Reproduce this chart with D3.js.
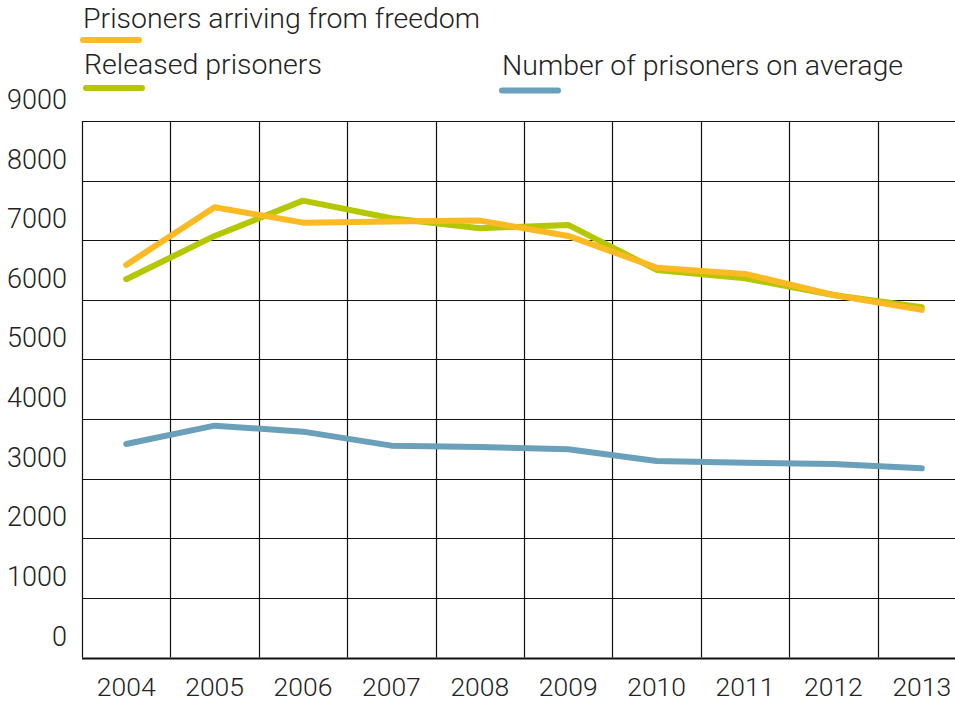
<!DOCTYPE html>
<html>
<head>
<meta charset="utf-8">
<script src="https://cdn.jsdelivr.net/npm/d3@7"></script>
<style>
  body { margin: 0; background: #fff; }
  text { font-family: Roboto, "DejaVu Sans", sans-serif; font-weight: 300; fill: #222; }
</style>
</head>
<body>
<script>
var years = [2004, 2005, 2006, 2007, 2008, 2009, 2010, 2011, 2012, 2013]
var arriving = [6586, 7554, 7295, 7312, 7329, 7072, 6540, 6435, 6082, 5831]
var released = [6346, 7072, 7664, 7369, 7201, 7257, 6502, 6362, 6082, 5876]
var average = [3582, 3889, 3789, 3554, 3532, 3493, 3297, 3268, 3247, 3174]
var yTicks = [0, 1000, 2000, 3000, 4000, 5000, 6000, 7000, 8000, 9000]

var width = 955, height = 701
var plotLeft = 82, plotRight = 966, plotTop = 121, plotBottom = 657.5

var svg = d3.select("body").append("svg")
  .attr("width", width)
  .attr("height", height)

var x = d3.scaleBand().domain(years).range([plotLeft, plotRight])
var y = d3.scaleLinear().domain([0, 9000]).range([plotBottom, plotTop])
var cx = function(d) { return x(d) + x.bandwidth() / 2 }

// grid
var grid = svg.append("g")
grid.selectAll(".h").data(yTicks).enter().append("line")
  .attr("x1", plotLeft).attr("x2", width)
  .attr("y1", function(d) { return Math.round(y(d)) + 0.5 })
  .attr("y2", function(d) { return Math.round(y(d)) + 0.5 })
  .attr("stroke", "#111")
  .attr("stroke-width", function(d) { return d === 0 ? 2 : 1.2 })
grid.selectAll(".v").data(years).enter().append("line")
  .attr("x1", function(d) { return Math.round(x(d)) + 0.5 })
  .attr("x2", function(d) { return Math.round(x(d)) + 0.5 })
  .attr("y1", y(9000)).attr("y2", y(0))
  .attr("stroke", "#111")
  .attr("stroke-width", 1.2)

// y labels sit above their gridline
svg.selectAll(".ylab").data(yTicks).enter().append("text")
  .attr("x", 67)
  .attr("y", function(d) { return y(d) - 12 })
  .attr("text-anchor", "end")
  .attr("font-size", 27)
  .text(function(d) { return d })

// x labels
svg.selectAll(".xlab").data(years).enter().append("text")
  .attr("x", cx)
  .attr("y", 696)
  .attr("text-anchor", "middle")
  .attr("font-size", 26.5)
  .text(function(d) { return d })

var series = [
  { name: "Number of prisoners on average", values: average, color: "#6aa0ba" },
  { name: "Released prisoners", values: released, color: "#b5c700" },
  { name: "Prisoners arriving from freedom", values: arriving, color: "#fbba22" }
]

var line = d3.line()
  .x(function(d, i) { return cx(years[i]) })
  .y(function(d) { return y(d) })

svg.selectAll(".series").data(series).enter().append("path")
  .attr("d", function(s) { return line(s.values) })
  .attr("fill", "none")
  .attr("stroke", function(s) { return s.color })
  .attr("stroke-width", 6)
  .attr("stroke-linecap", "round")
  .attr("stroke-linejoin", "round")

// legend
var legend = [
  { text: "Prisoners arriving from freedom", color: "#fbba22", tx: 83, ty: 28, sx: 83, sy: 40 },
  { text: "Released prisoners", color: "#b5c700", tx: 84, ty: 74, sx: 86, sy: 88 },
  { text: "Number of prisoners on average", color: "#6aa0ba", tx: 502, ty: 75, sx: 502, sy: 90.5 }
]
var lg = svg.selectAll(".legend").data(legend).enter().append("g")
lg.append("text")
  .attr("x", function(d) { return d.tx })
  .attr("y", function(d) { return d.ty })
  .attr("font-size", 28.5)
  .text(function(d) { return d.text })
lg.append("line")
  .attr("x1", function(d) { return d.sx })
  .attr("x2", function(d) { return d.sx + 56 })
  .attr("y1", function(d) { return d.sy })
  .attr("y2", function(d) { return d.sy })
  .attr("stroke", function(d) { return d.color })
  .attr("stroke-width", 6)
  .attr("stroke-linecap", "round")
</script>
</body>
</html>
